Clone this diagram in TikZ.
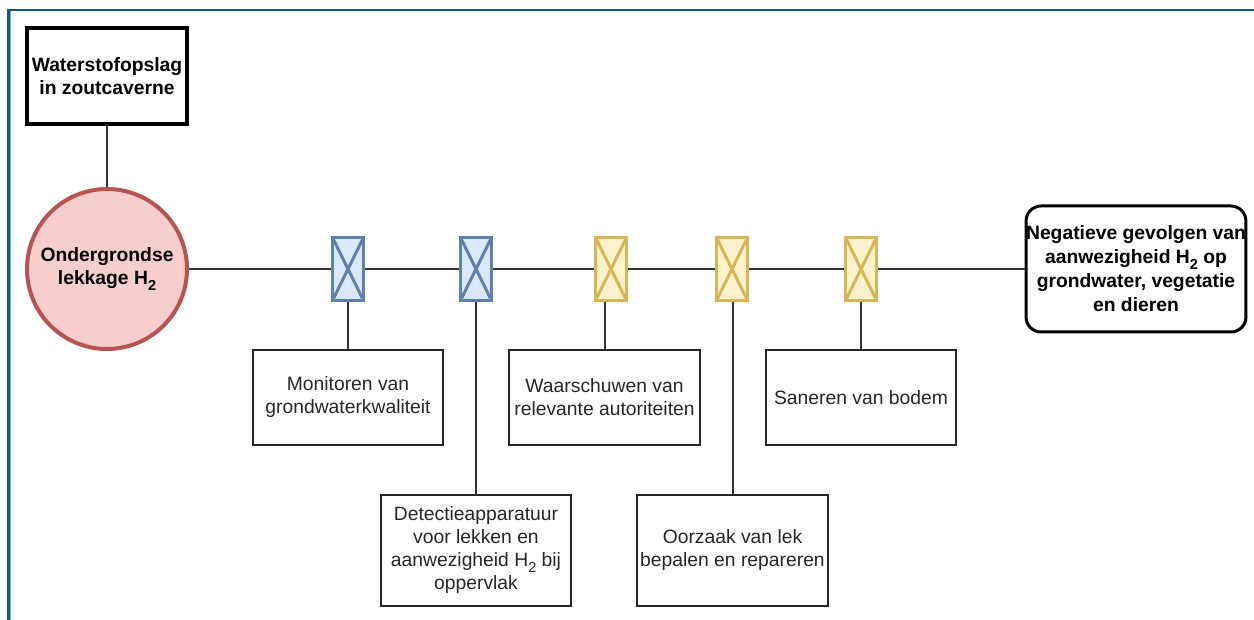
\documentclass[tikz,border=0pt]{standalone}
\usepackage{fontspec}
\setmainfont{Liberation Sans}
\newcommand{\Htwo}{H\raisebox{-0.28em}{\fontsize{14.5}{14.5}\selectfont 2}}
\definecolor{frameblue}{RGB}{16,88,124}
\definecolor{framelight}{RGB}{120,180,215}
\definecolor{leakfill}{RGB}{248,206,204}
\definecolor{leakdraw}{RGB}{184,84,80}
\definecolor{prevfill}{RGB}{218,232,252}
\definecolor{prevdraw}{RGB}{98,128,171}
\definecolor{mitfill}{RGB}{255,242,204}
\definecolor{mitdraw}{RGB}{214,182,86}
\definecolor{wire}{RGB}{50,50,50}
\tikzset{
  txt/.style={font=\fontsize{19.3}{23}\selectfont, align=center, text=black!85},
  boldtxt/.style={font=\fontsize{19.3}{23}\selectfont\bfseries, align=center, text=black},
  source/.style={boldtxt, draw=black, line width=4pt, minimum width=160pt, minimum height=96pt, inner sep=0pt},
  event/.style={boldtxt, circle, draw=leakdraw, fill=leakfill, line width=4pt, minimum size=160pt, inner sep=0pt},
  outcome/.style={boldtxt, draw=black, line width=3pt, rounded corners=15pt, minimum width=219pt, minimum height=126pt, inner sep=0pt, font=\fontsize{19.3}{24}\selectfont\bfseries},
  measure/.style={txt, draw=black!85, line width=1.6pt, minimum width=190.5pt, minimum height=95.5pt, inner sep=0pt},
  tallmeasure/.style={measure, minimum height=111.5pt},
  barrier/.style={rectangle, line width=3.2pt, minimum width=31pt, minimum height=63pt, inner sep=0pt,
    path picture={\draw[line width=3pt, draw=#1]
      (path picture bounding box.north west) -- (path picture bounding box.south east)
      (path picture bounding box.south west) -- (path picture bounding box.north east);}},
  prevbar/.style={barrier=prevdraw, draw=prevdraw, fill=prevfill},
  mitbar/.style={barrier=mitdraw, draw=mitdraw, fill=mitfill},
  link/.style={draw=wire, line width=2pt}
}
\begin{document}
\begin{tikzpicture}[x=1pt, y=-1pt]
\useasboundingbox (0,0) rectangle (1254,620);
% frame
\draw[framelight, line width=0.8pt] (10.2,620) -- (10.2,11.5);
\draw[frameblue, line width=2.4pt] (8.3,620) -- (8.3,10) -- (1254,10);

% source and top event
\node[source] (store) at (107,76) {Waterstofopslag\\in zoutcaverne};
\node[event] (leak) at (107,269) {Ondergrondse\\lekkage \Htwo};

% barriers
\node[prevbar] (b1) at (348,269) {};
\node[prevbar] (b2) at (476,269) {};
\node[mitbar] (b3) at (611,269) {};
\node[mitbar] (b4) at (732,269) {};
\node[mitbar] (b5) at (861,269) {};

% consequence
\node[outcome] (cons) at (1136,269) {Negatieve gevolgen van\\aanwezigheid \Htwo{} op\\grondwater, vegetatie\\en dieren};

% measures
\node[measure] (mon) at (348,397.5) {Monitoren van\\grondwaterkwaliteit};
\node[measure] (warn) at (604.5,397.5) {Waarschuwen van\\relevante autoriteiten};
\node[measure] (san) at (861,397.5) {Saneren van bodem};
\node[tallmeasure] (det) at (476,550.5) {Detectieapparatuur\\voor lekken en\\aanwezigheid \Htwo{} bij\\oppervlak};
\node[tallmeasure] (oor) at (732.5,550.5) {Oorzaak van lek\\bepalen en repareren};

% connectors
\draw[link] (store.south) -- (leak.north);
\draw[link] (leak.east) -- (b1.west);
\draw[link] (b1.east) -- (b2.west);
\draw[link] (b2.east) -- (b3.west);
\draw[link] (b3.east) -- (b4.west);
\draw[link] (b4.east) -- (b5.west);
\draw[link] (b5.east) -- (cons.west);
\draw[link] (mon.north) -- (b1.south);
\draw[link] (det.north) -- (b2.south);
\draw[link] (warn.north) -- (warn.north |- b3.south);
\draw[link] (oor.north) -- (oor.north |- b4.south);
\draw[link] (san.north) -- (b5.south);
\end{tikzpicture}
\end{document}
